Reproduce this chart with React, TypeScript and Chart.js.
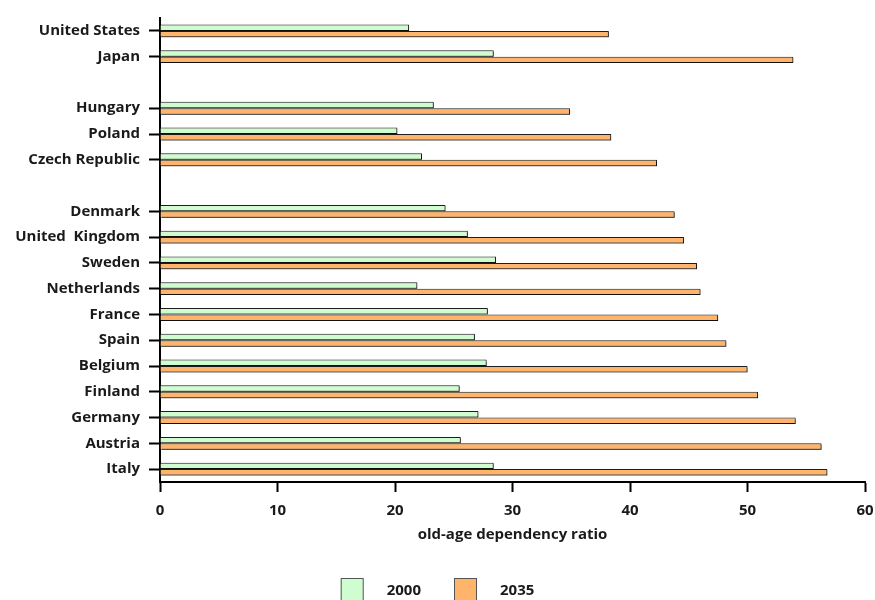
import React, { useEffect, useRef } from "react";
import { Chart, registerables } from "chart.js";

Chart.register(...registerables);

const categories = [
  "United States", "Japan", "",
  "Hungary", "Poland", "Czech Republic", "",
  "Denmark", "United  Kingdom", "Sweden", "Netherlands", "France", "Spain",
  "Belgium", "Finland", "Germany", "Austria", "Italy",
];
const values2000 = [
  21.2, 28.4, null,
  23.3, 20.2, 22.3, null,
  24.3, 26.2, 28.6, 21.9, 27.9, 26.8,
  27.8, 25.5, 27.1, 25.6, 28.4,
];
const values2035 = [
  38.2, 53.9, null,
  34.9, 38.4, 42.3, null,
  43.8, 44.6, 45.7, 46.0, 47.5, 48.2,
  50.0, 50.9, 54.1, 56.3, 56.8,
];
const seriesLabels = ["2000", "2035"];
const xTicks = [0, 10, 20, 30, 40, 50, 60];
const axisTitle = "old-age dependency ratio";

const GREEN = "#CFFDCF";
const ORANGE = "#FFB46C";
const EDGE = "#1e1e1e";
const FONT = "'Open Sans', Lato, sans-serif";

const shadowPlugin = {
  id: "barShadow",
  beforeDatasetsDraw(chart: any) {
    const c = chart.ctx;
    c.save();
    c.shadowColor = "rgba(0,0,0,0.45)";
    c.shadowOffsetX = 1;
    c.shadowOffsetY = 1;
    c.shadowBlur = 0.5;
  },
  afterDatasetsDraw(chart: any) {
    chart.ctx.restore();
  },
};

const legendPlugin = {
  id: "customLegend",
  afterDraw(chart: any) {
    const c = chart.ctx;
    const colors = [GREEN, ORANGE];
    c.save();
    c.font = `bold 15px ${FONT}`;
    const boxW = 23, boxH = 26, gapText = 23, gapItem = 33;
    const widths = seriesLabels.map((s) => c.measureText(s).width);
    let total = 0;
    widths.forEach((w, i) => { total += boxW + gapText + w + (i < widths.length - 1 ? gapItem : 0); });
    let x = chart.width / 2 - total / 2;
    const boxTop = 578;
    const textY = 591;
    seriesLabels.forEach((s, i) => {
      c.fillStyle = colors[i];
      c.fillRect(x, boxTop, boxW, boxH);
      c.strokeStyle = "#555";
      c.lineWidth = 1;
      c.strokeRect(x + 0.5, boxTop + 0.5, boxW - 1, boxH - 1);
      c.fillStyle = "#1a1a1a";
      c.textBaseline = "middle";
      c.textAlign = "left";
      c.fillText(s, x + boxW + gapText, textY);
      x += boxW + gapText + widths[i] + gapItem;
    });
    c.restore();
  },
};

export default function App() {
  const ref = useRef<HTMLCanvasElement | null>(null);

  useEffect(() => {
    if (!ref.current) return;
    const chart = new Chart(ref.current, {
      type: "bar",
      data: {
        labels: categories,
        datasets: [
          {
            label: seriesLabels[0],
            data: values2000,
            backgroundColor: GREEN,
            borderColor: EDGE,
            borderWidth: 1,
            categoryPercentage: 0.5,
            barPercentage: 1.0,
          },
          {
            label: seriesLabels[1],
            data: values2035,
            backgroundColor: ORANGE,
            borderColor: EDGE,
            borderWidth: 1,
            categoryPercentage: 0.5,
            barPercentage: 1.0,
          },
        ],
      },
      options: {
        indexAxis: "y",
        animation: false,
        responsive: false,
        maintainAspectRatio: false,
        layout: { padding: { top: 12, right: 10, bottom: 52, left: 0 } },
        plugins: {
          legend: { display: false },
          tooltip: { enabled: false },
        },
        scales: {
          x: {
            type: "linear",
            min: 0,
            max: 60,
            afterBuildTicks: (scale: any) => {
              scale.ticks = xTicks.map((v) => ({ value: v }));
            },
            afterFit: (scale: any) => {
              scale.paddingRight = 0;
              scale.paddingLeft = 0;
            },
            ticks: {
              color: "#1a1a1a",
              font: { family: FONT, size: 15, weight: "bold" },
              padding: 10,
            },
            grid: {
              display: true,
              drawOnChartArea: false,
              drawTicks: true,
              tickLength: 10,
              tickWidth: 2,
              tickColor: "#000",
            },
            border: { display: true, color: "#000", width: 2 },
            title: {
              display: true,
              text: axisTitle,
              color: "#1a1a1a",
              font: { family: FONT, size: 15, weight: "bold" },
              padding: { top: -4, bottom: 4 },
            },
          },
          y: {
            type: "category",
            offset: true,
            afterFit: (scale: any) => {
              scale.width = 160;
            },
            ticks: {
              autoSkip: false,
              color: "#1a1a1a",
              font: { family: FONT, size: 15, weight: "bold" },
              padding: 9,
            },
            grid: {
              display: true,
              offset: false,
              drawOnChartArea: false,
              drawTicks: true,
              tickLength: 11,
              tickWidth: 2,
              tickColor: (ctx: any) => (categories[ctx.index] ? "#000" : "rgba(0,0,0,0)"),
            },
            border: { display: true, color: "#000", width: 2 },
          },
        },
      },
      plugins: [shadowPlugin, legendPlugin],
    } as any);
    return () => chart.destroy();
  }, []);

  return (
    <div style={{ position: "fixed", left: 0, top: 0, width: 875, height: 600, background: "#fff" }}>
      <canvas ref={ref} width={875} height={600} style={{ display: "block" }} />
    </div>
  );
}
